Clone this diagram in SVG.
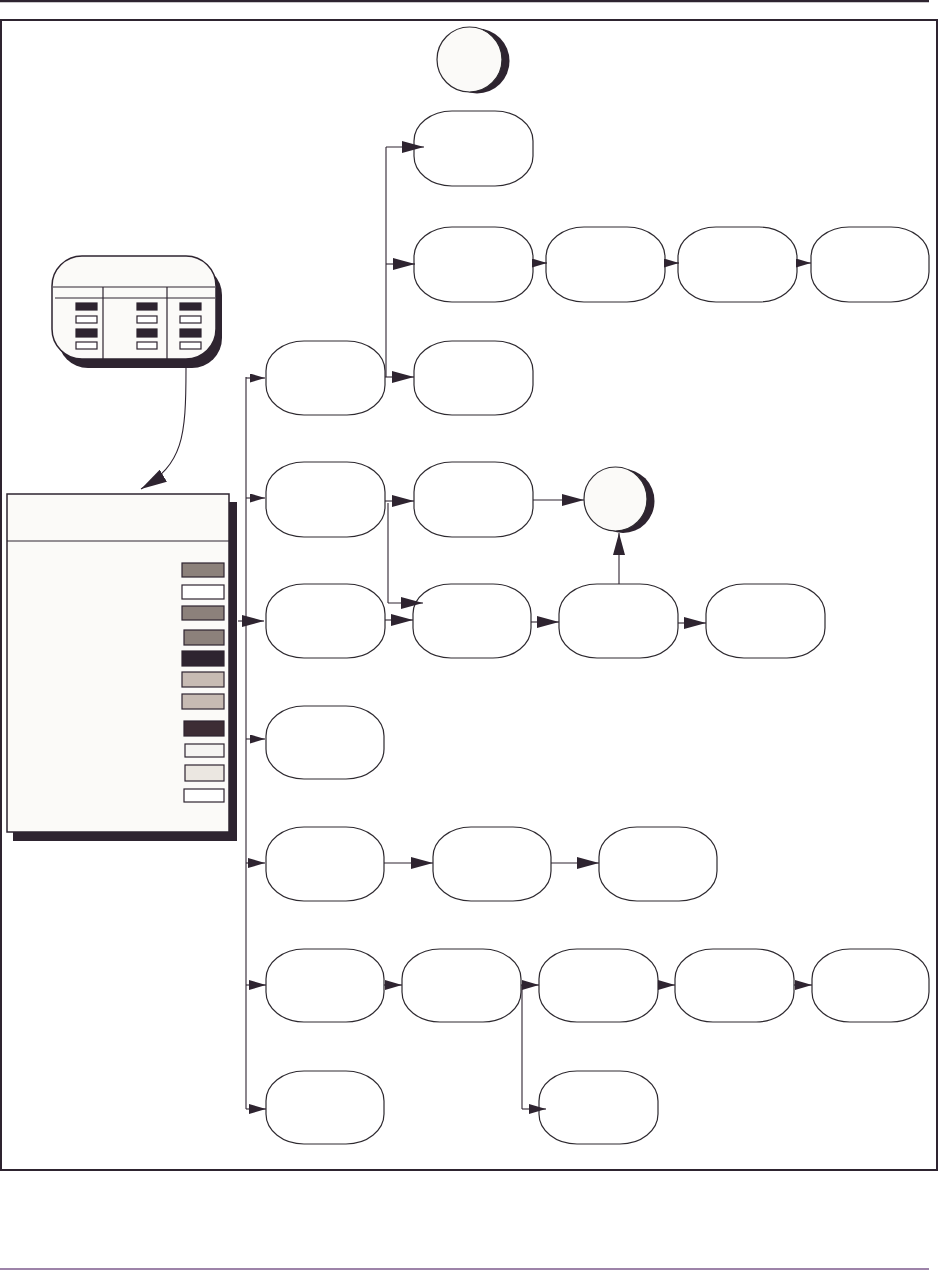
<svg xmlns="http://www.w3.org/2000/svg" width="939" height="1271" viewBox="0 0 939 1271">
<defs>
<style>
.node{fill:#ffffff;stroke:#2e2a30;stroke-width:1.2}
.conn{fill:none;stroke:#2e2430;stroke-width:1.1}
.shadow{fill:#2e2430}
.panel{fill:#fbfaf8;stroke:#2e2430;stroke-width:1.5}
.rule{stroke:#2e2430;stroke-width:1.2}
.sw{stroke:#2e2430;stroke-width:1.2}
</style>
<marker id="ahL" markerUnits="userSpaceOnUse" markerWidth="22" markerHeight="12" refX="22" refY="6" orient="auto" viewBox="0 0 22 12"><path d="M0,0 L22,6 L0,12 Z" fill="#2e2430"/></marker>
<marker id="ahM" markerUnits="userSpaceOnUse" markerWidth="17" markerHeight="10" refX="17" refY="5" orient="auto" viewBox="0 0 17 10"><path d="M0,0 L17,5 L0,10 Z" fill="#2e2430"/></marker>
<marker id="ahS" markerUnits="userSpaceOnUse" markerWidth="15" markerHeight="9" refX="15" refY="4.5" orient="auto" viewBox="0 0 15 9"><path d="M0,0 L15,4.5 L0,9 Z" fill="#2e2430"/></marker>
<marker id="ahC" markerUnits="userSpaceOnUse" markerWidth="26" markerHeight="14" refX="26" refY="7" orient="auto" viewBox="0 0 26 14"><path d="M0,0 L26,7 L0,14 Z" fill="#2e2430"/></marker>
</defs>
<rect x="0" y="0" width="939" height="1271" fill="#ffffff"/>
<line x1="0" y1="1.2" x2="929" y2="1.2" stroke="#2e2430" stroke-width="2.2"/>
<rect x="1" y="20" width="936" height="1150" fill="none" stroke="#2e2430" stroke-width="2"/>
<line x1="0" y1="1269" x2="929" y2="1269" stroke="#7d5a8c" stroke-width="1.5"/>

<g id="legend">
<rect class="shadow" x="58" y="265" width="164" height="103" rx="30" ry="30"/>
<rect class="panel" x="52" y="256" width="164" height="103" rx="30" ry="30" stroke-width="1.2"/>
<line class="rule" x1="53" y1="287" x2="215" y2="287"/>
<line class="rule" x1="55" y1="298" x2="215" y2="298"/>
<line class="rule" x1="103" y1="287" x2="103" y2="359"/>
<line class="rule" x1="167" y1="287" x2="167" y2="359"/>
<g class="sw">
<rect x="76" y="303" width="21" height="7" fill="#2e2430"/>
<rect x="76" y="316" width="21" height="7" fill="#ffffff"/>
<rect x="76" y="329" width="21" height="8" fill="#2e2430"/>
<rect x="76" y="342" width="21" height="7" fill="#ffffff"/>
<rect x="137" y="303" width="20" height="7" fill="#2e2430"/>
<rect x="137" y="316" width="20" height="7" fill="#ffffff"/>
<rect x="137" y="329" width="20" height="8" fill="#2e2430"/>
<rect x="137" y="342" width="20" height="7" fill="#ffffff"/>
<rect x="180" y="303" width="21" height="7" fill="#2e2430"/>
<rect x="180" y="316" width="21" height="7" fill="#ffffff"/>
<rect x="180" y="329" width="21" height="8" fill="#2e2430"/>
<rect x="180" y="342" width="21" height="7" fill="#ffffff"/>
</g>
</g>

<g id="panel">
<rect class="shadow" x="13" y="502" width="224" height="339"/>
<rect class="panel" x="7" y="494" width="222" height="338"/>
<line class="rule" x1="7" y1="541" x2="229" y2="541"/>
<g class="sw">
<rect x="182" y="563" width="42" height="14" fill="#8c817b"/>
<rect x="182" y="585" width="42" height="14" fill="#ffffff"/>
<rect x="182" y="606" width="42" height="14" fill="#8c817b"/>
<rect x="184" y="630" width="40" height="15" fill="#8c817b"/>
<rect x="182" y="651" width="42" height="15" fill="#2e2430"/>
<rect x="182" y="672" width="42" height="15" fill="#c7bbb3"/>
<rect x="182" y="694" width="42" height="15" fill="#c7bbb3"/>
<rect x="184" y="721" width="40" height="15" fill="#3d2d35"/>
<rect x="185" y="744" width="39" height="13" fill="#f5f4f2"/>
<rect x="185" y="765" width="39" height="16" fill="#ebe7e1"/>
<rect x="184" y="789" width="40" height="13" fill="#ffffff"/>
</g>
</g>

<g id="circle-top">
<circle class="shadow" cx="477" cy="61" r="32.5"/>
<circle cx="469.5" cy="59.5" r="32.5" fill="#fbfaf8" stroke="#2e2a30" stroke-width="1.2"/>
</g>
<g id="circle-mid">
<ellipse class="shadow" cx="623" cy="501" rx="31.5" ry="32"/>
<ellipse cx="615.5" cy="499" rx="31.5" ry="32" fill="#fbfaf8" stroke="#2e2a30" stroke-width="1.2"/>
</g>

<g id="n0a"><rect class="node" x="414" y="111" width="119" height="75" rx="38" ry="30"/></g>
<g id="n1a"><rect class="node" x="414" y="227" width="119" height="75" rx="38" ry="30"/></g>
<g id="n1b"><rect class="node" x="546" y="227" width="119" height="75" rx="38" ry="30"/></g>
<g id="n1c"><rect class="node" x="678" y="227" width="119" height="75" rx="38" ry="30"/></g>
<g id="n1d"><rect class="node" x="811" y="227" width="118" height="75" rx="38" ry="30"/></g>
<g id="n2a"><rect class="node" x="266" y="341" width="119" height="74" rx="38" ry="30"/></g>
<g id="n2b"><rect class="node" x="414" y="341" width="119" height="74" rx="38" ry="30"/></g>
<g id="n3a"><rect class="node" x="266" y="462" width="119" height="75" rx="38" ry="30"/></g>
<g id="n3b"><rect class="node" x="414" y="462" width="119" height="75" rx="38" ry="30"/></g>
<g id="n4a"><rect class="node" x="266" y="584" width="119" height="74" rx="38" ry="30"/></g>
<g id="n4b"><rect class="node" x="413" y="584" width="118" height="74" rx="38" ry="30"/></g>
<g id="n4c"><rect class="node" x="559" y="584" width="119" height="74" rx="38" ry="30"/></g>
<g id="n4d"><rect class="node" x="706" y="584" width="119" height="74" rx="38" ry="30"/></g>
<g id="n5a"><rect class="node" x="266" y="706" width="118" height="73" rx="38" ry="30"/></g>
<g id="n6a"><rect class="node" x="266" y="827" width="118" height="74" rx="38" ry="30"/></g>
<g id="n6b"><rect class="node" x="433" y="827" width="118" height="74" rx="38" ry="30"/></g>
<g id="n6c"><rect class="node" x="599" y="827" width="118" height="74" rx="38" ry="30"/></g>
<g id="n8a"><rect class="node" x="266" y="949" width="118" height="73" rx="38" ry="30"/></g>
<g id="n8b"><rect class="node" x="402" y="949" width="119" height="73" rx="38" ry="30"/></g>
<g id="n8c"><rect class="node" x="539" y="949" width="119" height="73" rx="38" ry="30"/></g>
<g id="n8d"><rect class="node" x="675" y="949" width="119" height="73" rx="38" ry="30"/></g>
<g id="n8e"><rect class="node" x="812" y="949" width="117" height="73" rx="38" ry="30"/></g>
<g id="n9a"><rect class="node" x="266" y="1071" width="118" height="73" rx="38" ry="30"/></g>
<g id="n9b"><rect class="node" x="539" y="1071" width="119" height="73" rx="38" ry="30"/></g>

<g id="connectors" class="conn">
<path d="M186,368 C186,438 183,464 141,489" marker-end="url(#ahC)"/>
<path d="M246,377 V1109"/>
<path d="M246,378 H265" marker-end="url(#ahS)"/>
<path d="M246,498 H265" marker-end="url(#ahS)"/>
<path d="M238,621 H264" marker-end="url(#ahL)"/>
<path d="M246,739 H265" marker-end="url(#ahS)"/>
<path d="M246,863 H265" marker-end="url(#ahM)"/>
<path d="M246,985 H266" marker-end="url(#ahM)"/>
<path d="M246,1109 H266" marker-end="url(#ahM)"/>
<path d="M386,147 V377"/>
<path d="M386,147 H424" marker-end="url(#ahL)"/>
<path d="M386,264 H415" marker-end="url(#ahL)"/>
<path d="M385,377 H414" marker-end="url(#ahL)"/>
<path d="M533,263 H547" marker-end="url(#ahS)"/>
<path d="M665,263 H679" marker-end="url(#ahS)"/>
<path d="M797,263 H811" marker-end="url(#ahS)"/>
<path d="M385,501 H414" marker-end="url(#ahL)"/>
<path d="M388,503 V603"/>
<path d="M388,603 H423" marker-end="url(#ahL)"/>
<path d="M385,620 H413" marker-end="url(#ahL)"/>
<path d="M533,500 H584" marker-end="url(#ahL)"/>
<path d="M531,622 H559" marker-end="url(#ahL)"/>
<path d="M678,623 H706" marker-end="url(#ahL)"/>
<path d="M619,584 V533" marker-end="url(#ahL)"/>
<path d="M384,863 H433" marker-end="url(#ahL)"/>
<path d="M551,863 H599" marker-end="url(#ahL)"/>
<path d="M384,985 H402" marker-end="url(#ahM)"/>
<path d="M521,985 H539" marker-end="url(#ahM)"/>
<path d="M658,985 H675" marker-end="url(#ahM)"/>
<path d="M794,985 H812" marker-end="url(#ahM)"/>
<path d="M522,985 V1109"/>
<path d="M522,1109 H546" marker-end="url(#ahM)"/>
</g>
</svg>
